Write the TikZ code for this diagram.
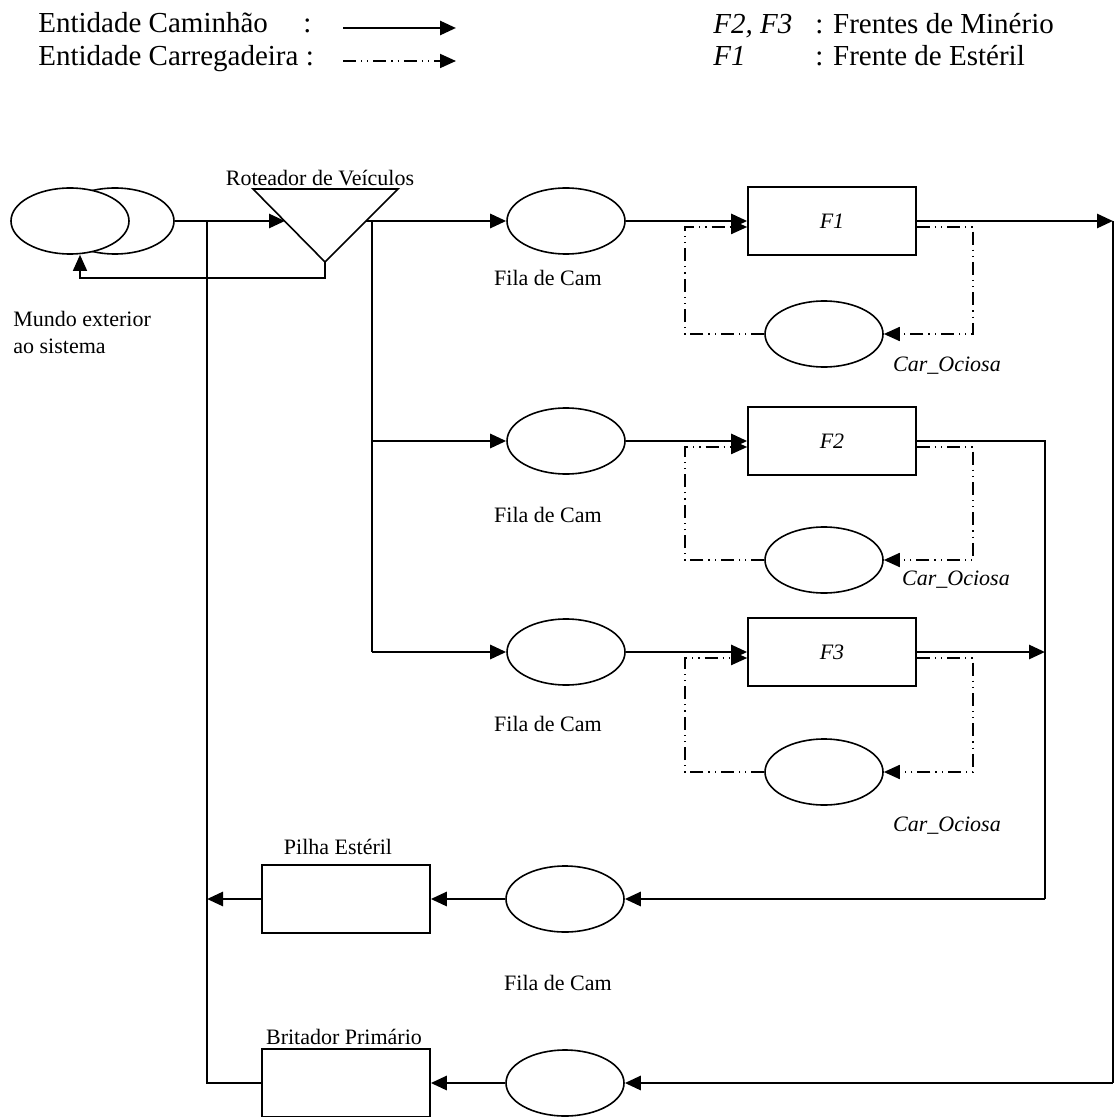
\documentclass[tikz,border=0pt]{standalone}
\usepackage{fontspec}
\setmainfont{Liberation Serif}
\usetikzlibrary{shapes.geometric,arrows.meta}

\begin{document}
\begin{tikzpicture}
  [x=0.5pt,y=-0.5pt,
   fila/.style={ellipse,draw,thick,fill=white,minimum width=59pt,minimum height=33pt,inner sep=0pt},
   frente/.style={rectangle,draw,thick,minimum width=84pt,minimum height=34pt,font=\fontsize{11}{13}\selectfont\itshape},
   rotulo/.style={font=\fontsize{11}{13.5}\selectfont},
   rotit/.style={font=\fontsize{11}{13.5}\selectfont\itshape},
   legenda/.style={font=\fontsize{14.5}{17}\selectfont,anchor=base west,inner sep=0pt},
   legit/.style={legenda,font=\fontsize{14.5}{17}\selectfont\itshape},
   seta/.style={-{Triangle[length=8pt,width=7pt]}},
   cam/.style={line width=1.4pt,seta},
   fio/.style={line width=0.7pt},
   car/.style={line width=0.9pt,dash pattern=on 6.5pt off 2.5pt on 0.6pt off 2.5pt on 0.6pt off 2.5pt,seta}]

  \useasboundingbox (0,0) rectangle (1117,1117);

  % legenda
  \node[legenda] (lcam) at (38,33) {Entidade Caminhão};
  \node[legenda] (lcol) at (303,33) {:};
  \node[legenda] (lcar) at (38,66) {Entidade Carregadeira :};
  \coordinate (lc1) at (343,28);
  \coordinate (lc2) at (456,28);
  \coordinate (lk1) at (343,61);
  \coordinate (lk2) at (456,61);
  \draw[cam] (lc1) -- (lc2);
  \draw[car] (lk1) -- (lk2);
  \node[legit] (lf23) at (713,34) {F2, F3};
  \node[legenda] (lmin) at (815,34) {: Frentes de Minério};
  \node[legit] (lf1) at (713,66) {F1};
  \node[legenda] (lest) at (815,66) {: Frente de Estéril};

  % mundo exterior e roteador
  \node[fila] (mundoB) at (115,221) {};
  \node[fila] (mundoA) at (70,221) {};
  \node[rotulo,align=left,anchor=west,inner sep=0pt] (lmundo) at (13,332) {Mundo exterior\\ao sistema};
  \draw[thick] (253,189) -- (398,189) -- (325,262) -- cycle;
  \node[rotulo] (lrot) at (320,178) {Roteador de Veículos};
  \coordinate (rotin) at (285,221);
  \coordinate (rotout) at (366,221);
  \coordinate (rotbase) at (325,262);
  \coordinate (rotvolta) at (325,278);
  \draw[cam] (mundoB) -- (rotin);
  \draw[fio,seta] (rotbase) -- (rotvolta) -| ([xshift=5pt]mundoA.south);

  % frentes de lavra
  \foreach \i/\yf/\yc in {1/221/334,2/441/560,3/652/772}{
    \node[fila] (fila\i) at (566,\yf) {};
    \node[frente] (F\i) at (832,\yf) {F\i};
    \node[fila] (ociosa\i) at (824,\yc) {};
    \draw[cam] (fila\i) -- (F\i);
    \draw[car] ([yshift=-3pt]F\i.east) -- (973,\yf+6) |- (ociosa\i);
    \draw[car] (ociosa\i) -| (685,\yf+6) -- ([yshift=-3pt]F\i.west);
  }
  \node[rotulo] (lfila1) at (548,278) {Fila de Cam};
  \node[rotulo] (lfila2) at (548,515) {Fila de Cam};
  \node[rotulo] (lfila3) at (548,724) {Fila de Cam};
  \node[rotit] (locio1) at (947,366) {Car\_Ociosa};
  \node[rotit] (locio2) at (956,580) {Car\_Ociosa};
  \node[rotit] (locio3) at (947,826) {Car\_Ociosa};

  \coordinate (j0) at (372,221);
  \coordinate (j2) at (372,441);
  \coordinate (j3) at (372,652);
  \draw[cam] (rotout) -- (fila1);
  \draw[fio] (j0) -- (j3);
  \draw[cam] (j2) -- (fila2);
  \draw[cam] (j3) -- (fila3);

  % saidas das frentes
  \coordinate (s1) at (1113,221);
  \coordinate (s5) at (1113,1083);
  \coordinate (d2) at (1045,441);
  \coordinate (d3) at (1045,652);
  \coordinate (d4) at (1045,899);
  \draw[cam] (F1) -- (s1);
  \draw[fio] (s1) -- (s5);
  \draw[fio] (F2) -- (d2) -- (d4);
  \draw[cam] (F3) -- (d3);

  % pilha e britador
  \node[fila] (fila4) at (565,899) {};
  \node[frente] (pilha) at (346,899) {};
  \node[fila] (fila5) at (565,1083) {};
  \node[frente] (brit) at (346,1083) {};
  \node[rotulo] (lpilha) at (338,847) {Pilha Estéril};
  \node[rotulo] (lbrit) at (344,1037) {Britador Primário};
  \node[rotulo] (lfila4) at (558,983) {Fila de Cam};
  \coordinate (e0) at (207,221);
  \coordinate (e4) at (207,899);
  \coordinate (e5) at (207,1083);
  \draw[cam] (d4) -- (fila4);
  \draw[cam] (fila4) -- (pilha);
  \draw[cam] (pilha) -- (e4);
  \draw[cam] (s5) -- (fila5);
  \draw[cam] (fila5) -- (brit);
  \draw[fio] (brit) -- (e5) -- (e0);

\end{tikzpicture}
\end{document}
